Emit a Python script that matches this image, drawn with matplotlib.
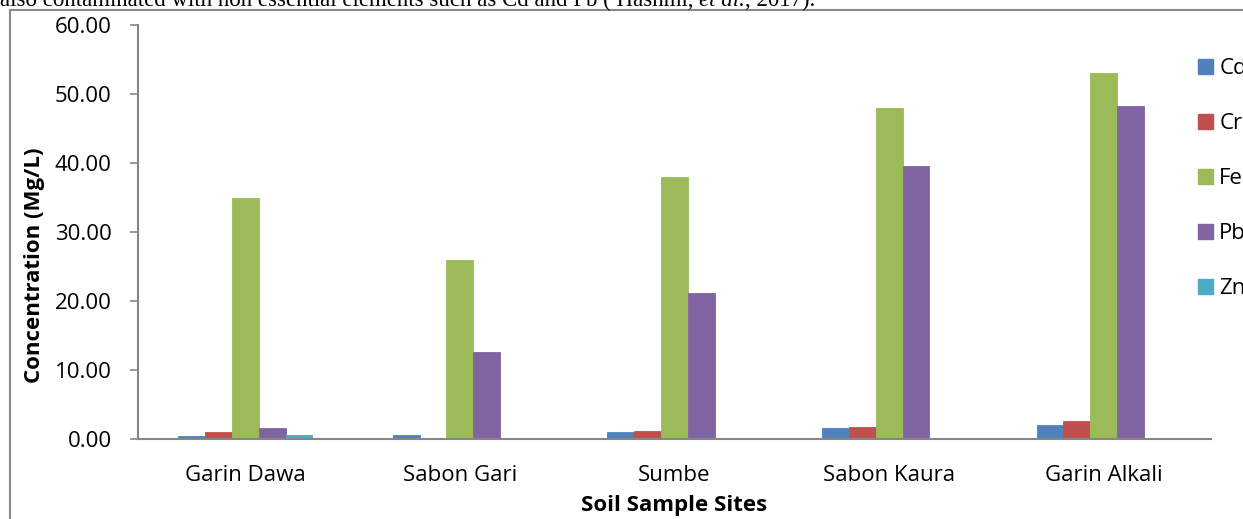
import matplotlib
matplotlib.use("Agg")
import matplotlib.pyplot as plt
from matplotlib.lines import Line2D
from matplotlib.patches import Patch
import numpy as np

sites = ["Garin Dawa", "Sabon Gari", "Sumbe", "Sabon Kaura", "Garin Alkali"]
elements = ["Cd", "Cr", "Fe", "Pb", "Zn"]
cd = [0.40, 0.60, 1.05, 1.55, 2.00]
cr = [1.00, 0.00, 1.15, 1.70, 2.55]
fe = [35.0, 26.0, 38.0, 48.0, 53.0]
pb = [1.65, 12.6, 21.2, 39.6, 48.3]
zn = [0.60, 0.00, 0.00, 0.10, 0.00]
series = [cd, cr, fe, pb, zn]
colors = ["#4F81BD", "#C0504D", "#9BBB59", "#8064A2", "#4BACC6"]
yticks = [0, 10, 20, 30, 40, 50, 60]

W, H = 1243, 519
fig = plt.figure(figsize=(W / 100, H / 100), dpi=100)
fig.patch.set_facecolor("white")

ax = fig.add_axes([138 / W, 1 - 439 / H, (1211 - 138) / W, (439 - 25) / H])

font = "Open Sans"
x = np.arange(len(sites))
bw = 0.125
for i, (vals, c) in enumerate(zip(series, colors)):
    ax.bar(x + (i - 2) * bw, vals, width=bw, color=c, edgecolor=c, linewidth=0.6, zorder=2)

ax.set_xlim(-0.5, len(sites) - 0.5)
ax.set_ylim(0, 60)
ax.set_yticks(yticks)
ax.set_yticklabels([f"{v:.2f}" for v in yticks], fontfamily=font, fontsize=16)
ax.set_xticks(x)
ax.set_xticklabels(sites, fontfamily=font, fontsize=16)
ax.tick_params(axis="x", length=0, pad=19)
ax.tick_params(axis="y", length=6, width=1.2, color="#868686", pad=13)
for s in ["top", "right"]:
    ax.spines[s].set_visible(False)
for s in ["left", "bottom"]:
    ax.spines[s].set_color("#868686")
    ax.spines[s].set_linewidth(1.5)

ax.set_xlabel("Soil Sample Sites", fontfamily=font, fontsize=16, fontweight="bold")
ax.xaxis.set_label_coords(0.5, -(505 - 439) / 414, transform=ax.transAxes)
ax.xaxis.label.set_va("center")
ax.set_ylabel("Concentration (Mg/L)", fontfamily=font, fontsize=16, fontweight="bold")
ax.yaxis.set_label_coords((35 - 138) / 1073, (439 - 265) / 414)
ax.yaxis.label.set_va("center")

handles = [Patch(facecolor=c, edgecolor=c) for c in colors]
fig.legend(handles, elements, loc="upper left", bbox_to_anchor=(1198 / W, 1 - 58 / H),
           frameon=False, prop={"family": font, "size": 16},
           handlelength=0.68, handleheight=0.68, handletextpad=0.28, labelspacing=1.53,
           borderaxespad=0, borderpad=0)

# frame border lines of the screenshot
fig.add_artist(Line2D([10 / W, 10 / W], [0, 1 - 10 / H], color="#8a8a8a", lw=1.5, transform=fig.transFigure))
fig.add_artist(Line2D([10 / W, 1], [1 - 10 / H, 1 - 10 / H], color="#8a8a8a", lw=1.5, transform=fig.transFigure))

# cropped caption line at top
renderer = fig.canvas.get_renderer()
parts = [("also contaminated with non essential elements such as Cd and Pb ( Hashmi, ", "normal"),
         ("et al.", "italic"), (", 2017).", "normal")]
xpos = 0.0
for txt, st in parts:
    t = fig.text(xpos, 1 - 6 / H, txt, fontfamily="Liberation Serif", fontsize=16.5,
                 fontstyle=st, va="baseline", ha="left")
    bb = t.get_window_extent(renderer)
    xpos = bb.x1 / W

fig.savefig("out.png", dpi=100)
